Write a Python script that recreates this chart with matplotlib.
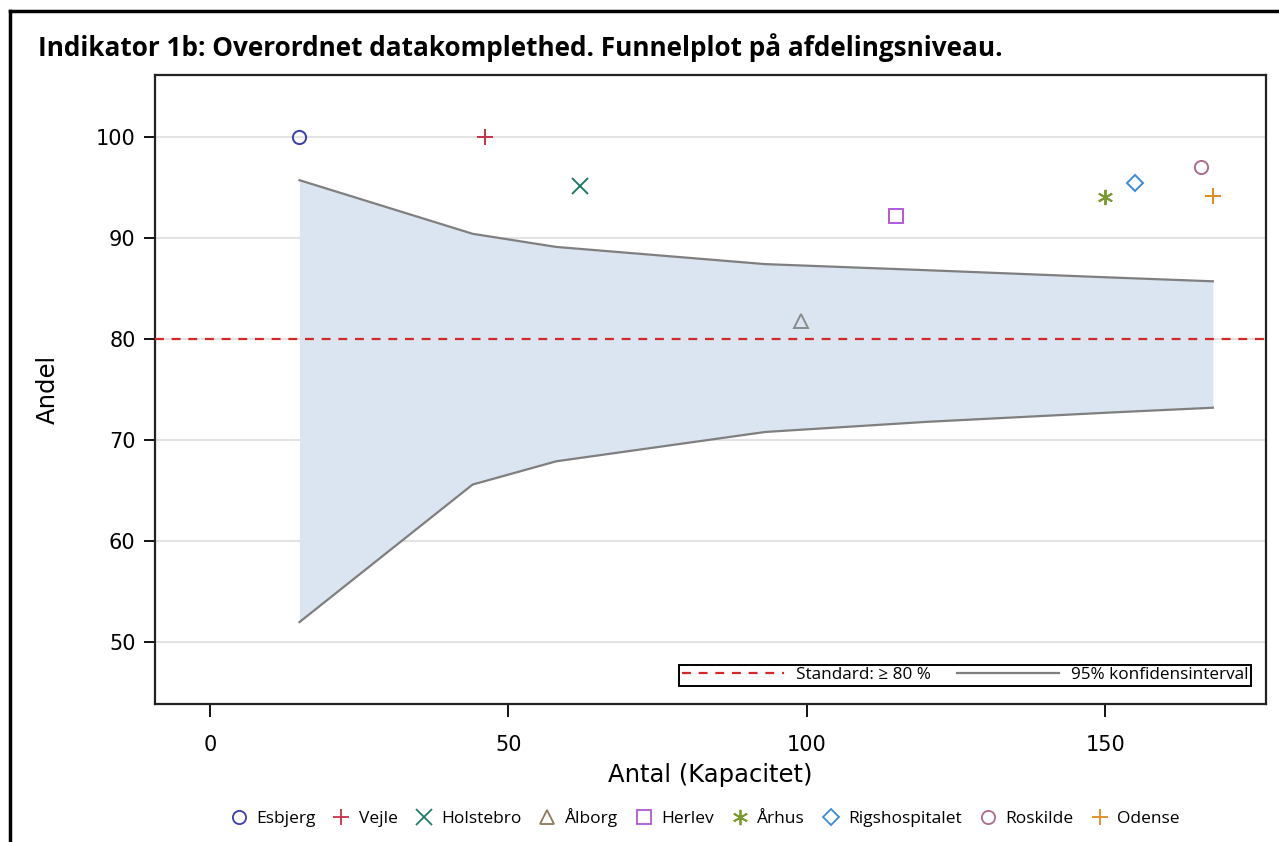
#!/usr/bin/env python3
"""Funnel plot of overall data completeness per department (indicator 1b)."""

import matplotlib
matplotlib.use("Agg")
import matplotlib.pyplot as plt
from matplotlib.lines import Line2D

# departments: number of cases (x) and share complete in percent (y)
departments = ["Esbjerg", "Vejle", "Holstebro", "Ålborg", "Herlev",
               "Århus", "Rigshospitalet", "Roskilde", "Odense"]
antal = [15, 46, 62, 99, 115, 150, 155, 166, 168]
andel = [100.0, 100.0, 95.1, 81.8, 92.2, 94.0, 95.4, 97.0, 94.1]

# 95% control limits of the funnel
funnel_n = [15, 44, 58, 93, 120, 150, 168]
funnel_upper = [95.7, 90.4, 89.1, 87.4, 86.8, 86.1, 85.7]
funnel_lower = [52.0, 65.6, 67.9, 70.8, 71.8, 72.7, 73.2]

standard = 80

marker_styles = {
    "Esbjerg": ("o", "#3c3cb8"),
    "Vejle": ("+", "#c8304a"),
    "Holstebro": ("x", "#1f7a6a"),
    "Ålborg": ("^", "#8c7a5a"),
    "Herlev": ("s", "#b058d8"),
    "Århus": ((6, 2, 0), "#7a9a30"),
    "Rigshospitalet": ("D", "#3a8ad8"),
    "Roskilde": ("o", "#b06a8c"),
    "Odense": ("+", "#e08a20"),
}

TXT = ["Open Sans", "DejaVu Sans"]

fig = plt.figure(figsize=(12.79, 8.42), dpi=100)
ax = fig.add_axes([0.1212, 0.1639, 0.8686, 0.7470])

ax.fill_between(funnel_n, funnel_lower, funnel_upper, color="#dbe5f1",
                linewidth=0, zorder=1)
ax.plot(funnel_n, funnel_upper, color="#7f7f7f", linewidth=1.6, zorder=2)
ax.plot(funnel_n, funnel_lower, color="#7f7f7f", linewidth=1.6, zorder=2,
        label="95% konfidensinterval")
ax.axhline(standard, color="#d62728", linestyle=(0, (4, 3.5)), linewidth=1.6,
           zorder=3, label="Standard: \u2265 80 %")

point_handles = []
for name, x, y in zip(departments, antal, andel):
    mk, col = marker_styles[name]
    sz = 9.5 if mk in ("o", "s", "^") else 8.5 if mk == "D" else 11
    # the triangle is drawn in grey inside the plot area
    plot_col = "#8a8a8a" if name == "Ålborg" else col
    ax.plot([x], [y], linestyle="none", marker=mk, markersize=sz,
            markerfacecolor="none", markeredgecolor=plot_col,
            markeredgewidth=1.4, zorder=4)
    point_handles.append(Line2D([], [], linestyle="none", marker=mk,
                                markersize=sz, markerfacecolor="none",
                                markeredgecolor=col, markeredgewidth=1.3,
                                label=name))

ax.set_xlim(-9.2, 176.9)
ax.set_ylim(43.9, 106.1)
ax.set_xticks([0, 50, 100, 150])
ax.set_yticks([50, 60, 70, 80, 90, 100])
ax.yaxis.grid(True, color="#e3e3e3", linewidth=1.5, zorder=0)
ax.set_axisbelow(True)
ax.tick_params(axis="x", length=9, width=1.3, pad=13, labelsize=15)
ax.tick_params(axis="y", length=8, width=1.3, pad=6, labelsize=15)
for sp in ax.spines.values():
    sp.set_linewidth(1.6)
    sp.set_color("#222222")

ax.set_xlabel("Antal (Kapacitet)", fontsize=17.5, labelpad=6)
ax.set_ylabel("Andel", fontsize=17.5, labelpad=26)

h, l = ax.get_legend_handles_labels()
leg = ax.legend(h[::-1], l[::-1], loc="lower right", ncol=2,
                bbox_to_anchor=(0.9945, 0.015),
                prop={"family": TXT, "size": 12.3},
                handlelength=6.0, columnspacing=1.5, handletextpad=0.7,
                borderpad=0.15, fancybox=False, framealpha=1,
                edgecolor="black")
leg.get_frame().set_linewidth(1.4)

fig.legend(handles=point_handles, loc="center", ncol=9,
           bbox_to_anchor=(0.551, 0.0285), frameon=False,
           prop={"family": TXT, "size": 12.5},
           handlelength=1.0, handletextpad=0.5, columnspacing=1.0)

fig.text(0.0297, 0.943,
         "Indikator 1b: Overordnet datakomplethed. Funnelplot på afdelingsniveau.",
         fontsize=18.8, fontweight="bold", family=TXT, va="center")

# outer frame around the whole figure (top and left edges)
fig.add_artist(Line2D([10 / 1279, 1.0], [1 - 11 / 842] * 2,
                      transform=fig.transFigure, color="black", linewidth=2.5))
fig.add_artist(Line2D([10 / 1279] * 2, [0.0, 1 - 11 / 842],
                      transform=fig.transFigure, color="black", linewidth=2.5))

fig.savefig("out.png", dpi=100)
